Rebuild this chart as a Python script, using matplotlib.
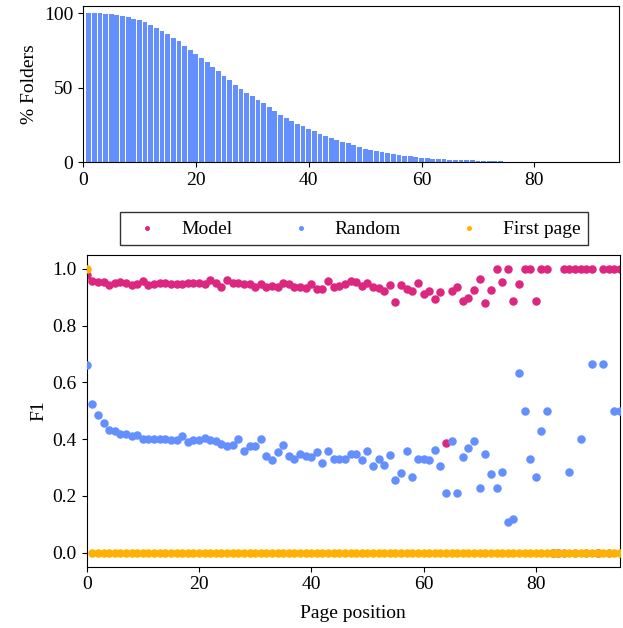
import matplotlib
matplotlib.use("Agg")
import matplotlib.pyplot as plt

plt.rcParams['font.family'] = ['Liberation Serif', 'DejaVu Serif']
plt.rcParams['font.size'] = 14

# share of folders that still have a page at each position
bar_pos = list(range(1, 75))
bar_pct = [100, 100, 100, 99.5, 99.5, 98.9, 98.2, 97.5, 96.2, 95.5,
           94.2, 92.1, 90.1, 88.1, 86.1, 83.4, 81.4, 78.1, 75.4, 72.7,
           70.0, 67.3, 64.0, 61.3, 57.9, 55.2, 51.9, 49.2, 46.5, 44.5,
           41.8, 39.8, 37.1, 34.4, 31.7, 29.7, 27.7, 25.7, 24.3, 22.3,
           21.0, 19.0, 17.6, 16.3, 15.0, 13.6, 12.9, 11.6, 10.3, 8.9,
           8.3, 7.6, 6.9, 6.3, 5.6, 4.9, 4.3, 4.3, 3.6, 2.9,
           2.9, 2.3, 2.3, 2.3, 1.6, 1.6, 1.6, 1.6, 1.6, 0.9,
           0.8, 0.7, 0.7, 0.6]

# F1 per page position
page = list(range(0, 96))
f1_model = [0.98, 0.956, 0.953, 0.955, 0.943, 0.952, 0.955, 0.949, 0.944, 0.946,
            0.957, 0.943, 0.946, 0.952, 0.950, 0.947, 0.946, 0.946, 0.950, 0.952,
            0.952, 0.947, 0.961, 0.952, 0.937, 0.961, 0.952, 0.950, 0.948, 0.945,
            0.935, 0.947, 0.935, 0.941, 0.935, 0.952, 0.947, 0.935, 0.935, 0.931,
            0.947, 0.929, 0.928, 0.956, 0.935, 0.938, 0.946, 0.956, 0.955, 0.939,
            0.950, 0.937, 0.931, 0.921, 0.942, 0.882, 0.943, 0.929, 0.922, 0.949,
            0.913, 0.921, 0.894, 0.917, 0.387, 0.922, 0.936, 0.888, 0.897, 0.925,
            0.963, 0.880, 0.925, 1.0, 0.954, 1.0, 0.888, 0.945, 1.0, 1.0,
            0.888, 1.0, 1.0, 0.0, 0.0, 1.0, 1.0, 1.0, 1.0, 1.0,
            1.0, 0.0, 1.0, 1.0, 1.0, 1.0]
f1_random = [0.66, 0.523, 0.486, 0.455, 0.431, 0.43, 0.417, 0.419, 0.41, 0.415,
             0.402, 0.40, 0.40, 0.40, 0.40, 0.395, 0.397, 0.41, 0.39, 0.398,
             0.398, 0.405, 0.398, 0.392, 0.383, 0.377, 0.378, 0.40, 0.358, 0.377,
             0.376, 0.40, 0.340, 0.326, 0.355, 0.378, 0.341, 0.329, 0.347, 0.340,
             0.338, 0.355, 0.316, 0.357, 0.330, 0.329, 0.329, 0.347, 0.347, 0.326,
             0.357, 0.306, 0.329, 0.307, 0.345, 0.256, 0.282, 0.358, 0.268, 0.329,
             0.329, 0.326, 0.363, 0.305, 0.211, 0.394, 0.210, 0.337, 0.367, 0.393,
             0.226, 0.349, 0.276, 0.229, 0.284, 0.109, 0.117, 0.634, 0.498, 0.331,
             0.265, 0.427, 0.498, 0.0, 0.0, 0.0, 0.284, 0.0, 0.399, 0.0,
             0.666, 0.0, 0.666, 0.0, 0.5, 0.5]
f1_first = [1.0] + [0.0] * 95

fig = plt.figure(figsize=(6.23, 6.28), dpi=100)

ax1 = fig.add_axes([0.1332, 0.742, 0.8604, 0.2484])
ax1.bar(bar_pos, bar_pct, width=0.85, color="#648FFF")
ax1.set_xlim(0, 95)
ax1.set_ylim(0, 105)
ax1.set_xticks([0, 20, 40, 60, 80])
ax1.set_yticks([0, 50, 100])
ax1.set_ylabel("% Folders")

ax2 = fig.add_axes([0.1392, 0.0976, 0.856, 0.4968])
ax2.scatter(page, f1_model, s=26, color="#DC267F", label="Model", zorder=2)
ax2.scatter(page, f1_random, s=26, color="#648FFF", label="Random", zorder=3)
ax2.scatter(page, f1_first, s=26, color="#FFB000", label="First page", zorder=4)
ax2.set_xlim(0, 95)
ax2.set_ylim(-0.05, 1.05)
ax2.set_xticks([0, 20, 40, 60, 80])
ax2.set_yticks([0.0, 0.2, 0.4, 0.6, 0.8, 1.0])
ax2.set_xlabel("Page position", labelpad=8)
ax2.set_ylabel("F1")

fig.legend(loc="center", bbox_to_anchor=(0.5686, 0.6358), ncol=3,
           markerscale=0.5, handletextpad=0.75, columnspacing=2.5,
           fancybox=False, edgecolor="#333333", framealpha=1)

fig.savefig("out.png", dpi=100)
